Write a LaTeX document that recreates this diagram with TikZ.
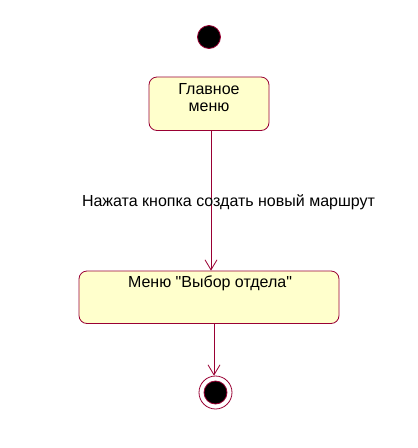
\documentclass[tikz,border=0pt]{standalone}
\usepackage{fontspec}
\setmainfont{Liberation Sans}
\newfontfamily\plainfont{Liberation Sans}
\usetikzlibrary{arrows.meta}
\definecolor{umlborder}{HTML}{990033}
\definecolor{umlfill}{HTML}{FFFFCC}
\begin{document}
\begin{tikzpicture}[x=1pt,y=-1pt,
  statebox/.style={draw=umlborder,fill=umlfill,rounded corners=8pt,line width=0.8pt,inner sep=0pt},
  flow/.style={draw=umlborder,line width=0.8pt,-{Straight Barb[length=10pt,width=12pt,line width=0.8pt]}},
  dot/.style={circle,fill=black,draw=umlborder,line width=0.8pt,minimum size=23pt,inner sep=0pt},
  lbl/.style={font=\plainfont\fontsize{16}{17}\selectfont,text=black,inner sep=0pt}]
\useasboundingbox (0,0) rectangle (418,448);
\node[dot] (start) at (209,37) {};
\node[statebox,minimum width=120pt,minimum height=53.5pt] (mainbox) at (209,103.75) {};
\node[lbl,align=center] (main) at (209,98) {Главное\\меню};
\node[statebox,minimum width=260pt,minimum height=52.5pt] (deptbox) at (209,297.25) {};
\node[lbl] (dept) at (210,283.5) {Меню "Выбор отдела"};
\node[circle,draw=umlborder,line width=0.8pt,minimum size=33pt,inner sep=0pt] (endo) at (215.5,392.5) {};
\node[dot] (endi) at (215.5,392.5) {};
\draw[flow] ([xshift=2pt]mainbox.south) -- ([xshift=2pt]deptbox.north);
\draw[flow] ([xshift=5pt]deptbox.south) -- ([xshift=-1.5pt]endo.north);
\node[lbl] (trig) at (228.5,202) {Нажата кнопка создать новый маршрут};
\end{tikzpicture}
\end{document}
